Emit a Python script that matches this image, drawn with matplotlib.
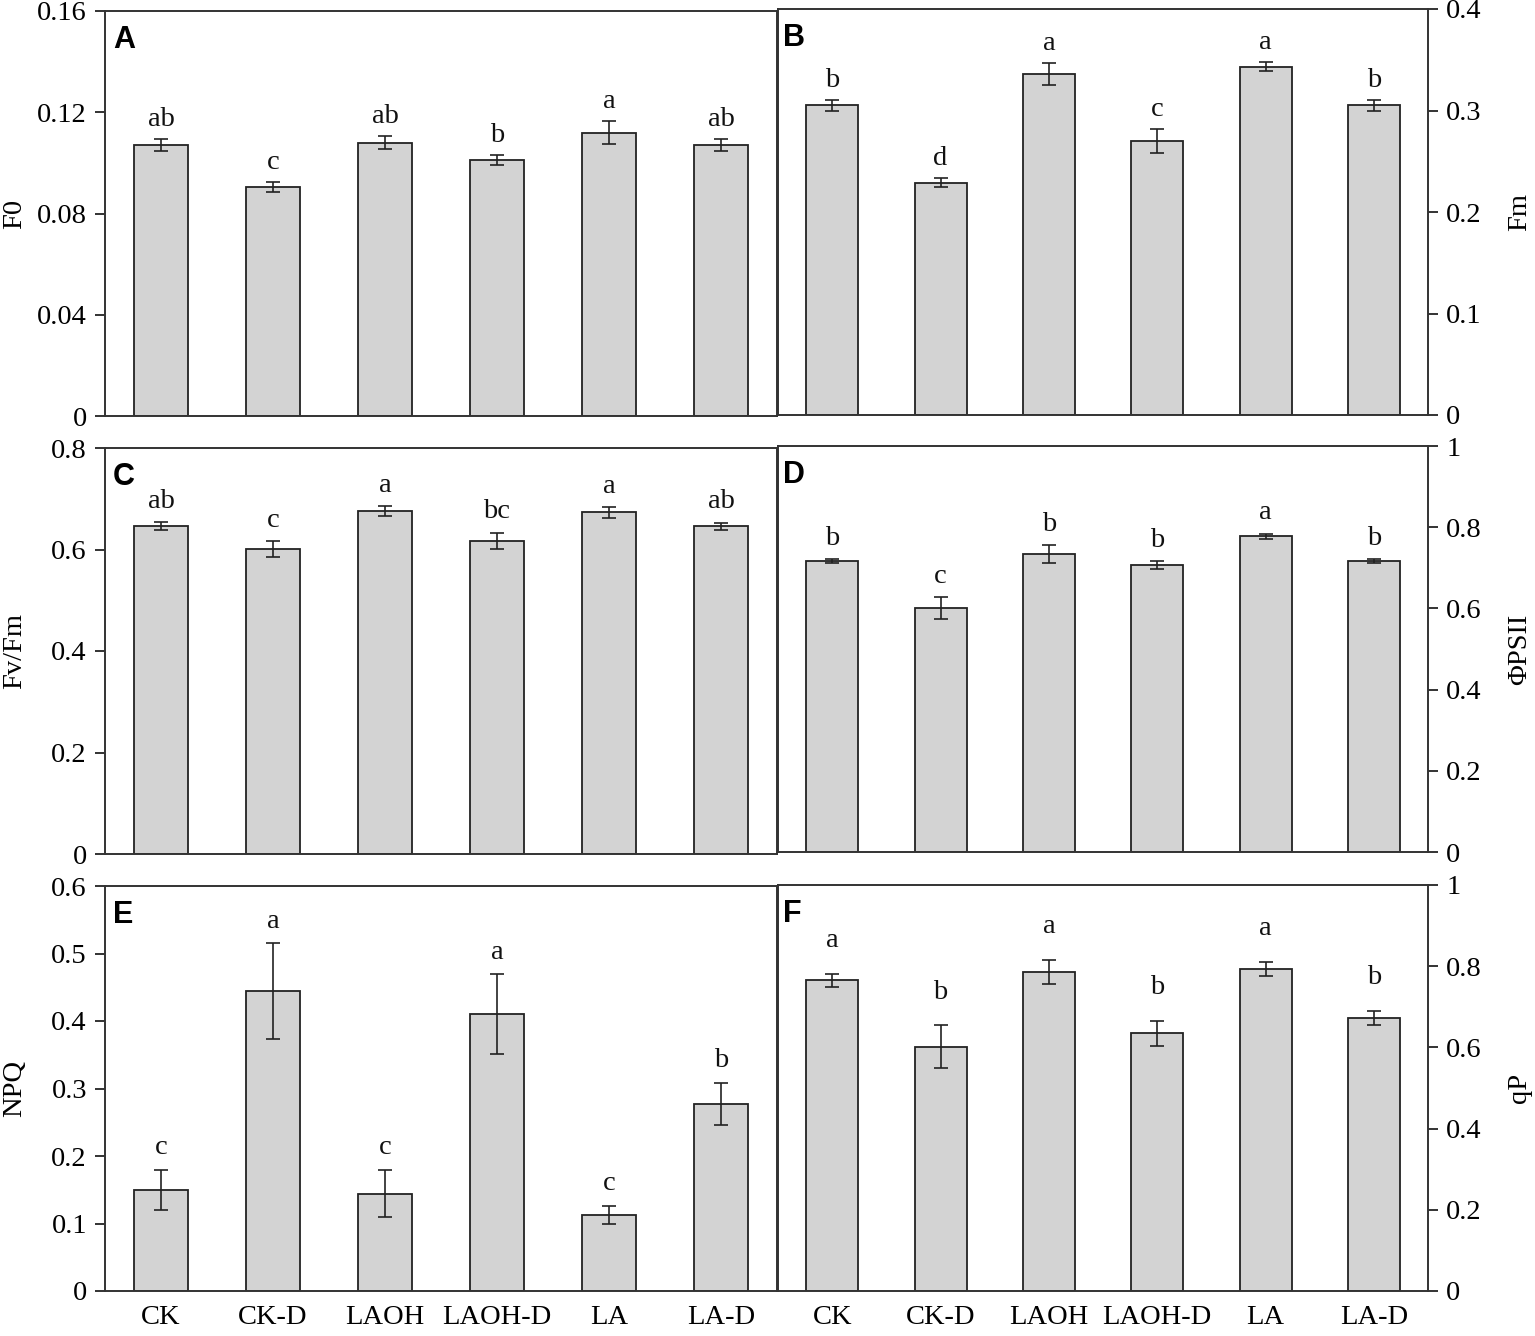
import matplotlib
matplotlib.use("Agg")
import matplotlib.pyplot as plt
from matplotlib.ticker import FuncFormatter

# Tratamentos
grupos = ["CK", "CK-D", "LAOH", "LAOH-D", "LA", "LA-D"]

# Valores (média, erro padrão, letras)
f0 = [0.107, 0.0905, 0.108, 0.101, 0.112, 0.107]
f0_err = [0.0024, 0.002, 0.0025, 0.002, 0.0045, 0.0024]
f0_let = ["ab", "c", "ab", "b", "a", "ab"]

fm = [0.305, 0.229, 0.336, 0.270, 0.343, 0.305]
fm_err = [0.005, 0.0045, 0.011, 0.012, 0.0045, 0.005]
fm_let = ["b", "d", "a", "c", "a", "b"]

fvfm = [0.646, 0.601, 0.676, 0.617, 0.673, 0.646]
fvfm_err = [0.008, 0.015, 0.010, 0.016, 0.010, 0.007]
fvfm_let = ["ab", "c", "a", "bc", "a", "ab"]

phipsii = [0.717, 0.601, 0.734, 0.707, 0.778, 0.717]
phipsii_err = [0.004, 0.027, 0.021, 0.010, 0.006, 0.005]
phipsii_let = ["b", "c", "b", "b", "a", "b"]

npq = [0.150, 0.444, 0.144, 0.410, 0.113, 0.277]
npq_err = [0.030, 0.071, 0.035, 0.059, 0.013, 0.031]
npq_let = ["c", "a", "c", "a", "c", "b"]

qp = [0.765, 0.602, 0.785, 0.635, 0.793, 0.672]
qp_err = [0.016, 0.052, 0.030, 0.031, 0.017, 0.018]
qp_let = ["a", "b", "a", "b", "a", "b"]

paineis = [
    # (letra, valores, erros, letras, rótulo, ticks, lado, retângulo em px (x0, topo, x1, base), offset letras)
    ("A", f0, f0_err, f0_let, "F0", [0, 0.04, 0.08, 0.12, 0.16], "left", (105, 11, 777, 416), 5),
    ("B", fm, fm_err, fm_let, "Fm", [0, 0.1, 0.2, 0.3, 0.4], "right", (778, 9, 1428, 415), 5),
    ("C", fvfm, fvfm_err, fvfm_let, "Fv/Fm", [0, 0.2, 0.4, 0.6, 0.8], "left", (105, 448, 777, 854), 6),
    ("D", phipsii, phipsii_err, phipsii_let, "ΦPSII", [0, 0.2, 0.4, 0.6, 0.8, 1], "right", (778, 446, 1428, 852), 6),
    ("E", npq, npq_err, npq_let, "NPQ", [0, 0.1, 0.2, 0.3, 0.4, 0.5, 0.6], "left", (105, 886, 777, 1291), 7),
    ("F", qp, qp_err, qp_let, "qP", [0, 0.2, 0.4, 0.6, 0.8, 1], "right", (778, 885, 1428, 1291), 15),
]

plt.rcParams["font.family"] = ["Liberation Serif", "DejaVu Serif"]
cor_linha = "#333333"
fs = 20.5

W, H = 1535, 1336
fig = plt.figure(figsize=(W / 100, H / 100), dpi=100)

fmt = FuncFormatter(lambda v, p: ("%g" % round(v, 4)))

for letra, vals, errs, lets, rotulo, ticks, lado, (x0, t, x1, b), off in paineis:
    ax = fig.add_axes([x0 / W, 1 - b / H, (x1 - x0) / W, (b - t) / H])
    x = range(len(grupos))
    ax.bar(x, vals, width=0.48, color="#d3d3d3", edgecolor="#222222", linewidth=1.3, zorder=2)
    ax.errorbar(x, vals, yerr=errs, fmt="none", ecolor="#222222", elinewidth=1.2,
                capsize=5, capthick=1.2, zorder=3)
    for i, (v, e, l) in enumerate(zip(vals, errs, lets)):
        ax.annotate(l, (i, v + e), xytext=(0, off), textcoords="offset points",
                    ha="center", va="bottom", fontsize=fs, color="#111111")
    ax.set_xlim(-0.5, len(grupos) - 0.5)
    ax.set_ylim(ticks[0], ticks[-1])
    ax.set_yticks(ticks)
    ax.yaxis.set_major_formatter(fmt)
    for s in ax.spines.values():
        s.set_color(cor_linha)
        s.set_linewidth(1.4)
    ax.tick_params(axis="y", direction="out", length=7, width=1.4, color=cor_linha,
                   labelsize=fs, pad=6)
    ax.set_ylabel(rotulo, fontsize=fs)
    if lado == "right":
        ax.yaxis.tick_right()
        ax.yaxis.set_label_position("right")
        ax.yaxis.set_label_coords(1.141, 0.5)
        ax.text(0.008, 0.965, letra, transform=ax.transAxes, ha="left", va="top",
                fontsize=22, fontweight="bold", family="Liberation Sans")
    else:
        ax.yaxis.set_label_coords(-0.134, 0.5)
        ax.text(0.012, 0.965, letra, transform=ax.transAxes, ha="left", va="top",
                fontsize=22, fontweight="bold", family="Liberation Sans")
    ax.yaxis.label.set_verticalalignment("center")
    ax.yaxis.label.set_rotation(90)
    if letra in ("E", "F"):
        ax.set_xticks(list(x))
        ax.set_xticklabels(grupos)
        ax.tick_params(axis="x", length=0, labelsize=fs, pad=10)
    else:
        ax.set_xticks([])

plt.savefig("out.png", dpi=100)
